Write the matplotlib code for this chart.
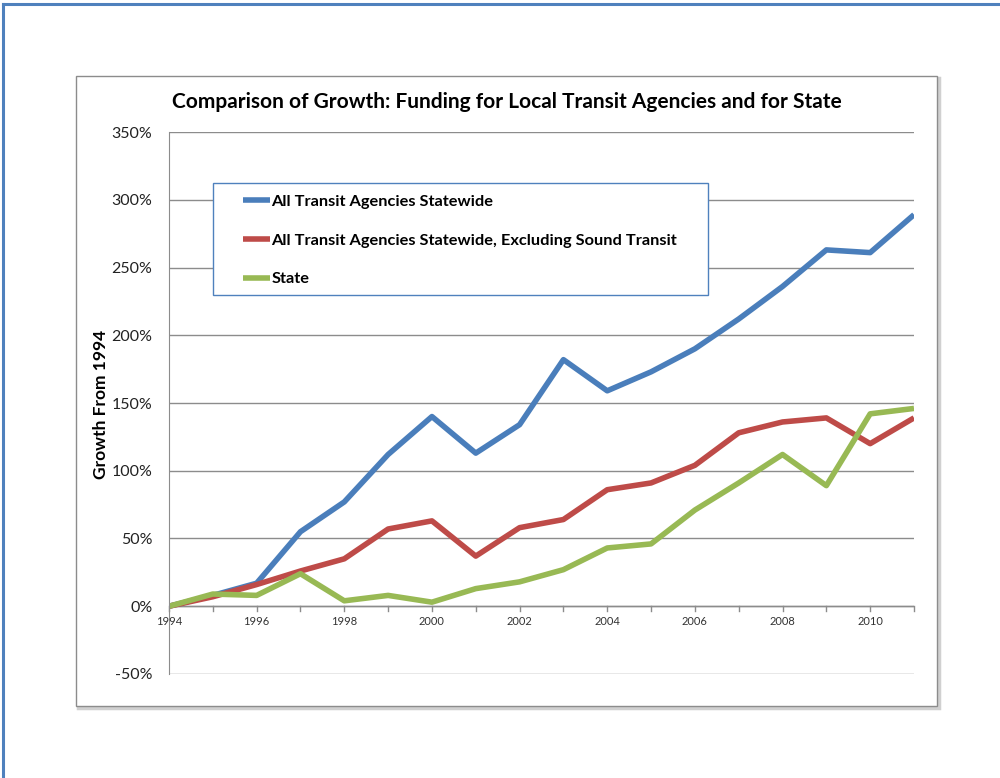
import matplotlib.pyplot as plt
from matplotlib.patches import Rectangle
from matplotlib.lines import Line2D
from matplotlib.ticker import FuncFormatter

plt.rcParams['font.family'] = ['Lato', 'DejaVu Sans']

# data (growth from 1994, percent)
years = list(range(1994, 2012))
all_agencies = [0, 8, 17, 55, 77, 112, 140, 113, 134, 182, 159, 173, 190, 212, 236, 263, 261, 289]
excl_sound = [0, 7, 16, 26, 35, 57, 63, 37, 58, 64, 86, 91, 104, 128, 136, 139, 120, 139]
state = [0, 9, 8, 24, 4, 8, 3, 13, 18, 27, 43, 46, 71, 91, 112, 89, 142, 146]

labels = ['All Transit Agencies Statewide',
          'All Transit Agencies Statewide, Excluding Sound Transit',
          'State']
colors = ['#4A7EBB', '#BE4B48', '#98B954']

fig = plt.figure(figsize=(10, 7.78), dpi=100)

# outer blue frame (top and left only)
fig.add_artist(Line2D([0.003, 1.0], [0.995, 0.995], color='#4F81BD', lw=2.2, transform=fig.transFigure))
fig.add_artist(Line2D([0.003, 0.003], [0.0, 0.995], color='#4F81BD', lw=2.2, transform=fig.transFigure))

# chart area box
fig.add_artist(Rectangle((0.078, 0.0905), 0.861, 0.8098, transform=fig.transFigure,
                         facecolor='none', edgecolor='#D0D0D0', lw=2.5, zorder=-2))
fig.add_artist(Rectangle((0.076, 0.0925), 0.861, 0.8098, transform=fig.transFigure,
                         facecolor='white', edgecolor='#8C8C8C', lw=1.0, zorder=-1))

ax = fig.add_axes([0.169, 0.1337, 0.745, 0.6966])
ax.set_facecolor('none')

for vals, lab, c in zip([all_agencies, excl_sound, state], labels, colors):
    ax.plot(years, vals, color=c, lw=4.0, label=lab, solid_capstyle='butt')

ax.set_xlim(1994, 2011)
ax.set_ylim(-50, 350)
ax.set_yticks(range(-50, 351, 50))
ax.yaxis.set_major_formatter(FuncFormatter(lambda v, p: f'{int(v)}%'))
ax.yaxis.grid(True, color='#8C8C8C', lw=1.0)
ax.set_axisbelow(True)
ax.tick_params(axis='y', length=0, pad=12, labelsize=11.5, labelcolor='#222222')

for s in ['top', 'right', 'bottom']:
    ax.spines[s].set_visible(False)
ax.spines['left'].set_color('#8C8C8C')

# x axis at 0%
ax.set_xticks([])
ax.axhline(0, color='#8C8C8C', lw=1.0, zorder=1)
for yr in years:
    ax.plot([yr, yr], [0, -3.5], color='#8C8C8C', lw=1.0, clip_on=False, zorder=1)
    if yr % 2 == 0:
        ax.text(yr, -7.5, str(yr), ha='center', va='top', fontsize=8, color='#333333')

ax.set_ylabel('Growth From 1994', fontsize=12.5, fontweight='bold')
ax.yaxis.set_label_coords(-0.081, 0.498)

fig.text(0.507, 0.869, 'Comparison of Growth: Funding for Local Transit Agencies and for State',
         ha='center', va='center', fontsize=15, fontweight='bold')

# legend box drawn by hand, legend entries inside it
ax.add_patch(Rectangle((0.059, 0.699), 0.6644, 0.207, transform=ax.transAxes,
                       facecolor='white', edgecolor='#4F81BD', lw=1.0, zorder=3))
leg = ax.legend(loc='upper left', bbox_to_anchor=(0.099, 0.885), frameon=False,
                prop={'weight': 'bold', 'size': 11.8}, handlelength=1.65, handletextpad=0.1,
                labelspacing=1.48, borderpad=0, borderaxespad=0)
leg.set_zorder(4)

fig.savefig('out.png', dpi=100)
